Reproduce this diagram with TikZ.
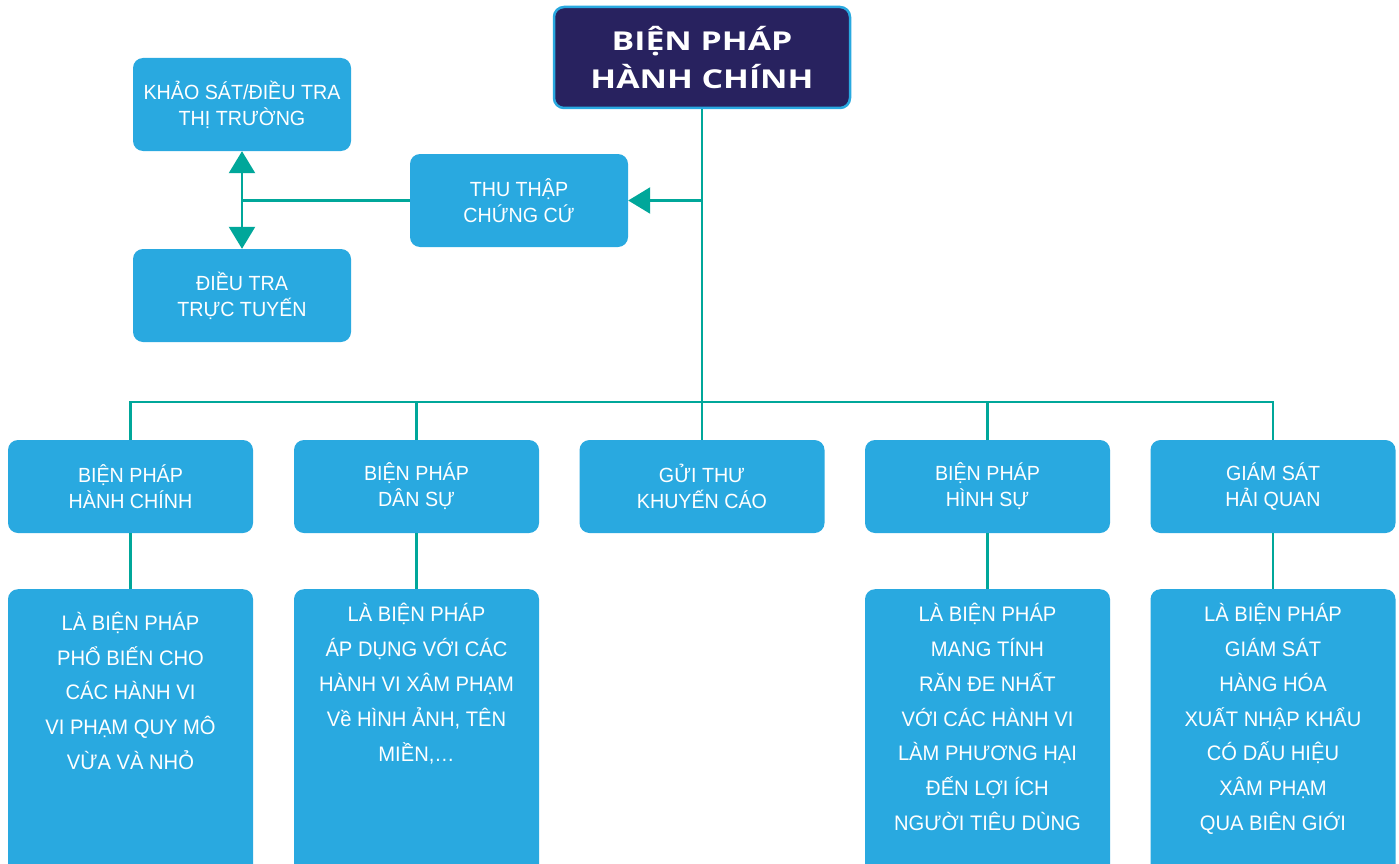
\documentclass[tikz,border=0pt]{standalone}
\usepackage{fontspec}
\setmainfont{Liberation Sans}[FakeStretch=0.96]
\newfontfamily\titlefont{Open Sans}[FakeStretch=1.3]
\usetikzlibrary{arrows.meta}
\definecolor{boxblue}{HTML}{29A9E0}
\definecolor{navyblue}{HTML}{28225F}
\definecolor{linkteal}{HTML}{00A79A}
\begin{document}
\begin{tikzpicture}[x=1pt,y=-1pt,
  box/.style={fill=boxblue, rounded corners=10pt, text=white, align=center, inner sep=0pt,
    minimum width=245pt, minimum height=93pt, font=\fontsize{20.5}{26}\selectfont},
  smallbox/.style={box, minimum width=218pt},
  deepbox/.style={fill=boxblue, rounded corners=10pt, inner sep=0pt, minimum width=245pt,
    minimum height=320pt, anchor=north},
  deeptext/.style={text=white, align=center, inner sep=0pt, anchor=base,
    font=\fontsize{21}{34.8}\selectfont},
  titlebox/.style={fill=navyblue, draw=boxblue, line width=2.5pt, rounded corners=10pt,
    text=white, align=center, minimum width=296pt, minimum height=101pt,
    font=\titlefont\bfseries\fontsize{26}{38}\selectfont},
  link/.style={draw=linkteal, line width=2.5pt},
  tipend/.style={-{Triangle[length=22pt,width=26pt]}},
  tipboth/.style={{Triangle[length=22pt,width=26pt]}-{Triangle[length=22pt,width=26pt]}}]
\useasboundingbox (0,0) rectangle (1399,864);
\clip (0,0) rectangle (1399,864);
\fill[white] (0,0) rectangle (1399,864);

\node[titlebox] (top) at (702,57.5) {BIỆN PHÁP\\HÀNH CHÍNH};
\node[smallbox] (ks) at (242,104.5) {KHẢO SÁT/ĐIỀU TRA\\THỊ TRƯỜNG};
\node[smallbox] (tt) at (519,200.5) {THU THẬP\\CHỨNG CỨ};
\node[smallbox] (dt) at (242,295.5) {ĐIỀU TRA\\TRỰC TUYẾN};

\node[box] (r1) at (130.5,486.5) {BIỆN PHÁP\\HÀNH CHÍNH};
\node[box] (r2) at (416.5,486.5) {BIỆN PHÁP\\DÂN SỰ};
\node[box] (r3) at (702,486.5) {GỬI THƯ\\KHUYẾN CÁO};
\node[box] (r4) at (987.5,486.5) {BIỆN PHÁP\\HÌNH SỰ};
\node[box] (r5) at (1273,486.5) {GIÁM SÁT\\HẢI QUAN};

\node[deepbox] (d1) at (130.5,589) {};
\node[deepbox] (d2) at (416.5,589) {};
\node[deepbox] (d4) at (987.5,589) {};
\node[deepbox] (d5) at (1273,589) {};

\node[deeptext] (t1) at (130.5,769.5) {LÀ BIỆN PHÁP\\PHỔ BIẾN CHO\\CÁC HÀNH VI\\VI PHẠM QUY MÔ\\VỪA VÀ NHỎ};
\node[deeptext] (t2) at (416.5,761) {LÀ BIỆN PHÁP\\ÁP DỤNG VỚI CÁC\\HÀNH VI XÂM PHẠM\\Về HÌNH ẢNH, TÊN\\MIỀN,…};
\node[deeptext] (t4) at (987.5,830.5) {LÀ BIỆN PHÁP\\MANG TÍNH\\RĂN ĐE NHẤT\\VỚI CÁC HÀNH VI\\LÀM PHƯƠNG HẠI\\ĐẾN LỢI ÍCH\\NGƯỜI TIÊU DÙNG};
\node[deeptext] (t5) at (1273,830.5) {LÀ BIỆN PHÁP\\GIÁM SÁT\\HÀNG HÓA\\XUẤT NHẬP KHẨU\\CÓ DẤU HIỆU\\XÂM PHẠM\\QUA BIÊN GIỚI};

\coordinate (bus) at (702,402);
\coordinate (jn) at (ks.south |- tt.west);

\draw[link] (top.south) -- (r3.north);
\draw[link] (r1.north) -- (r1.north |- bus) -| (r5.north);
\draw[link] (r2.north) -- (r2.north |- bus);
\draw[link] (r4.north) -- (r4.north |- bus);
\draw[link, tipend] (top.south |- tt.east) -- (tt.east);
\draw[link] (tt.west) -- (jn);
\draw[link, tipboth] (ks.south) -- (dt.north);

\draw[link] (r1.south) -- (d1.north);
\draw[link] (r2.south) -- (d2.north);
\draw[link] (r4.south) -- (d4.north);
\draw[link] (r5.south) -- (d5.north);
\end{tikzpicture}
\end{document}
